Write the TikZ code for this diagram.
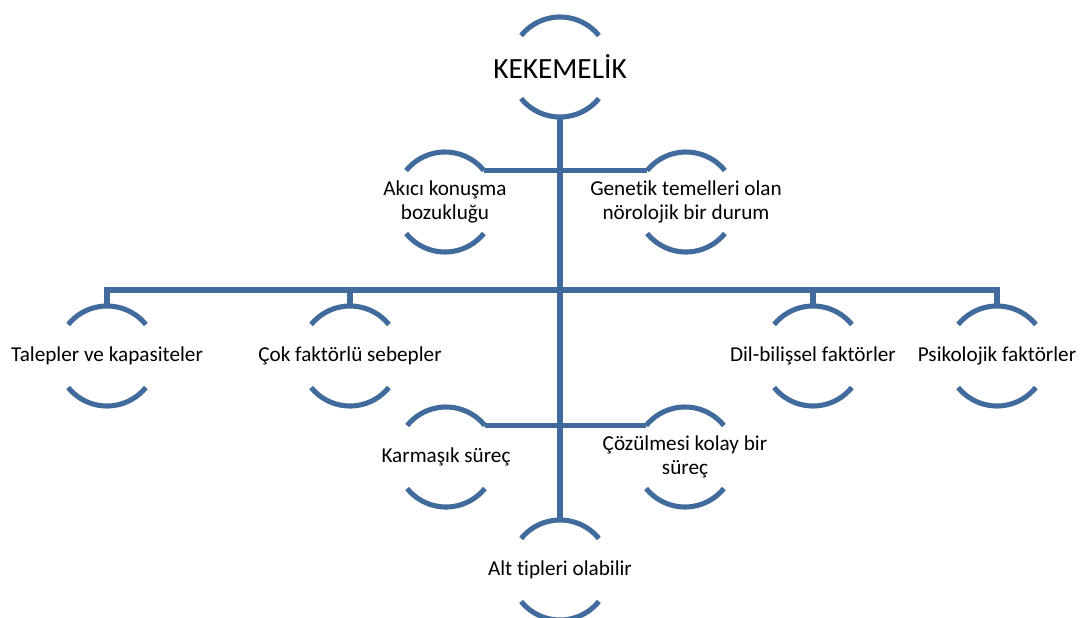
\documentclass[tikz,border=0pt]{standalone}
\usepackage{fontspec}
\setmainfont{Carlito}[Ligatures=NoCommon]
\usepackage{tikz}
\usetikzlibrary{positioning}
\definecolor{kblue}{RGB}{65,106,157}
\newcommand\bubr{50}

\begin{document}
\begin{tikzpicture}[x=0.75pt, y=0.75pt,
    link/.style={draw=kblue, line width=3.8pt},
    bubble/.style={align=center, inner sep=0pt, font=\fontsize{15.9}{18}\selectfont}]
			\useasboundingbox (0,0) rectangle (1083,-618);
			\node[bubble, font=\fontsize{22}{26}\selectfont] (root) at (560,-67) {KEKEMELİK};
			\node[bubble] (akici) at (445,-202) {Akıcı konuşma\\bozukluğu};
			\node[bubble] (genetik) at (686,-202) {Genetik temelleri olan\\nörolojik bir durum};
			\node[bubble] (talep) at (107,-356) {Talepler ve kapasiteler};
			\node[bubble] (cok) at (350,-356) {Çok faktörlü sebepler};
			\node[bubble] (dil) at (813,-356) {Dil-bilişsel faktörler};
			\node[bubble] (psiko) at (997,-356) {Psikolojik faktörler};
			\node[bubble] (karmasik) at (446,-457) {Karmaşık süreç};
			\node[bubble] (cozum) at (685,-457) {Çözülmesi kolay bir\\süreç};
			\node[bubble] (alt) at (560,-570) {Alt tipleri olabilir};
			\foreach \n in {root,akici,genetik,talep,cok,dil,psiko,karmasik,cozum,alt}
				\draw[link] ([shift={(39:\bubr)}]\n.center) arc[start angle=39, end angle=141, radius=\bubr]
				            ([shift={(219:\bubr)}]\n.center) arc[start angle=219, end angle=321, radius=\bubr];
			\coordinate (bus) at (560,-290);
			\draw[link] ([yshift=-\bubr*0.75pt]root.center) -- ([yshift=\bubr*0.75pt]alt.center);
			\draw[link] ([shift={(39:\bubr)}]akici.center) -- ([shift={(141:\bubr)}]genetik.center);
			\draw[link] ([shift={(39:\bubr)}]karmasik.center) -- ([shift={(141:\bubr)}]cozum.center);
			\draw[link] ([yshift=\bubr*0.75pt]talep.center) |- (bus) -| ([yshift=\bubr*0.75pt]psiko.center);
			\foreach \n in {cok,dil}
				\draw[link] (\n.center |- bus) -- ([yshift=\bubr*0.75pt]\n.center);
		\end{tikzpicture}
\end{document}
